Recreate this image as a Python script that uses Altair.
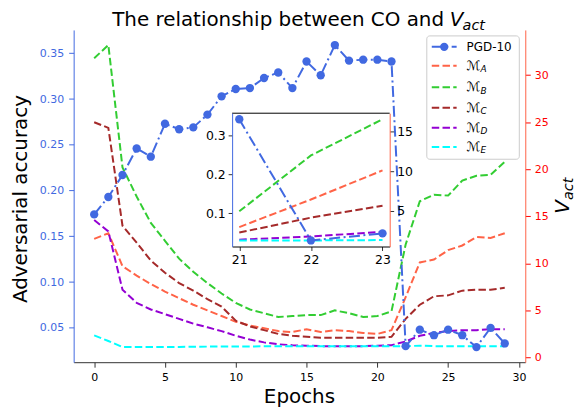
import altair as alt
import pandas as pd

# ---------------- data ----------------
epochs = list(range(30))
pgd = [0.174, 0.193, 0.217, 0.246, 0.237, 0.273, 0.267, 0.269, 0.283, 0.303,
       0.311, 0.312, 0.323, 0.329, 0.312, 0.341, 0.326, 0.359, 0.342, 0.343,
       0.343, 0.341, 0.030, 0.048, 0.042, 0.048, 0.042, 0.029, 0.050, 0.033]
m_a = [12.6, 13.2, 9.7, 8.7, 7.8, 7.0, 6.3, 5.6, 5.0, 4.4,
       3.8, 3.4, 3.1, 2.8, 2.7, 3.0, 2.7, 2.9, 2.8, 2.6,
       2.5, 2.9, 6.4, 10.1, 10.4, 11.4, 11.9, 12.8, 12.7, 13.2]
m_b = [31.8, 33.2, 20.2, 17.1, 14.3, 12.4, 10.5, 9.1, 7.9, 6.8,
       5.8, 5.1, 4.7, 4.3, 4.4, 4.5, 4.5, 5.0, 4.7, 4.3,
       4.4, 4.9, 12.0, 16.6, 17.3, 17.2, 18.8, 19.3, 19.4, 20.8]
m_c = [25.0, 24.4, 14.0, 12.2, 10.3, 9.0, 7.9, 7.1, 6.2, 5.4,
       3.9, 3.3, 2.9, 2.5, 2.3, 2.2, 2.1, 2.1, 2.1, 2.1,
       2.1, 2.2, 4.1, 5.6, 6.5, 6.6, 7.1, 7.2, 7.2, 7.4]
m_d = [14.6, 13.4, 7.2, 5.8, 5.1, 4.6, 4.1, 3.6, 3.2, 2.8,
       2.3, 1.9, 1.6, 1.4, 1.3, 1.25, 1.2, 1.2, 1.2, 1.2,
       1.25, 1.3, 1.7, 2.3, 2.6, 2.8, 2.9, 2.9, 3.0, 3.0]
m_e = [2.35, 1.75, 1.1, 1.1, 1.1, 1.1, 1.12, 1.14, 1.15, 1.16,
       1.17, 1.17, 1.18, 1.18, 1.18, 1.18, 1.18, 1.18, 1.18, 1.18,
       1.18, 1.2, 1.2, 1.25, 1.2, 1.2, 1.2, 1.2, 1.2, 1.2]
series_keys = ["A", "B", "C", "D", "E"]
series_colors = ["tomato", "limegreen", "brown", "darkviolet", "cyan"]
inset_epochs = [21, 22, 23]
x_ticks = [0, 5, 10, 15, 20, 25, 30]
left_ticks = [0.05, 0.10, 0.15, 0.20, 0.25, 0.30, 0.35]
right_ticks = [0, 5, 10, 15, 20, 25, 30]
inset_left_ticks = [0.1, 0.2, 0.3]
inset_right_ticks = [5, 10, 15]

# ---------------- tables ----------------
rows = []
for key, vals in zip(series_keys, [m_a, m_b, m_c, m_d, m_e]):
    for e, v in zip(epochs, vals):
        rows.append({"epoch": e, "value": v, "series": key})
m_df = pd.DataFrame(rows)
pgd_df = pd.DataFrame({"epoch": epochs, "acc": pgd})
m_in = m_df[m_df["epoch"].isin(inset_epochs)]
pgd_in = pgd_df[pgd_df["epoch"].isin(inset_epochs)]


def padded(lo, hi, frac=0.05):
    r = hi - lo
    return [lo - frac * r, hi + frac * r]


W, H = 454, 334
FONT = "DejaVu Sans"
xdom = padded(min(epochs), max(epochs))
ldom = padded(min(pgd), max(pgd))
rdom = padded(m_df["value"].min(), m_df["value"].max())
ixdom = padded(min(inset_epochs), max(inset_epochs))
ildom = padded(pgd_in["acc"].min(), pgd_in["acc"].max())
irdom = padded(m_in["value"].min(), m_in["value"].max())

# inset placement inside the plot area (pixels)
IX0, IX1, IYT, IYB = 159.3, 317.7, 83.7, 217.7

dash = [7.5, 3.3]
dashdot = [11, 3.5, 2, 3.5]
blue = "royalblue"
one = pd.DataFrame({"k": [0]})

color_enc = alt.Color("series:N", scale=alt.Scale(domain=series_keys, range=series_colors), legend=None)

# ---------------- main axes ----------------
main_x_axis = alt.Axis(orient="bottom", values=x_ticks, grid=False, tickSize=5, labelPadding=4,
                       labelFontSize=11, labelColor="black", domainColor="#333", tickColor="#333",
                       title=None, labelFlush=False)
left_axis = alt.Axis(orient="left", values=left_ticks, format=".2f", grid=False, tickSize=5,
                     labelPadding=5, labelFontSize=11, labelColor=blue, tickColor=blue,
                     domainColor=blue, title=None)
right_axis = alt.Axis(orient="right", values=right_ticks, format="d", grid=False, tickSize=5,
                      labelPadding=4, labelFontSize=11, labelColor="red", tickColor="red",
                      domainColor="tomato", title=None)

m_main = alt.Chart(m_df).mark_line(strokeDash=dash, strokeWidth=2).encode(
    x=alt.X("epoch:Q", scale=alt.Scale(domain=xdom, nice=False, zero=False), axis=main_x_axis),
    y=alt.Y("value:Q", scale=alt.Scale(domain=rdom, nice=False, zero=False), axis=right_axis),
    color=color_enc, detail="series:N")

pgd_line = alt.Chart(pgd_df).mark_line(strokeDash=dashdot, strokeWidth=2, color=blue).encode(
    x=alt.X("epoch:Q", scale=alt.Scale(domain=xdom, nice=False, zero=False), axis=None),
    y=alt.Y("acc:Q", scale=alt.Scale(domain=ldom, nice=False, zero=False), axis=left_axis))
pgd_pts = alt.Chart(pgd_df).mark_circle(size=70, color=blue, opacity=1).encode(
    x=alt.X("epoch:Q", scale=alt.Scale(domain=xdom, nice=False, zero=False), axis=None),
    y=alt.Y("acc:Q", scale=alt.Scale(domain=ldom, nice=False, zero=False), axis=None))

# ---------------- inset ----------------
inset_bg = alt.Chart(one).mark_rect(fill="white", stroke=None).encode(
    x=alt.value(IX0), x2=alt.value(IX1), y=alt.value(IYT), y2=alt.value(IYB))

ix_axis = alt.Axis(orient="bottom", offset=-(H - IYB), values=inset_epochs, grid=False, tickSize=4,
                   labelPadding=3, labelFontSize=12.5, labelColor="black", domainColor="black",
                   tickColor="#333", title=None, zindex=2, labelFlush=False)
il_axis = alt.Axis(orient="left", offset=-IX0, values=inset_left_ticks, format=".1f", grid=False,
                   tickSize=4, labelPadding=3, labelFontSize=12.5, labelColor="black",
                   domainColor=blue, tickColor="#333", title=None, zindex=2)
ir_axis = alt.Axis(orient="right", offset=-(W - IX1), values=inset_right_ticks, format="d", grid=False,
                   tickSize=4, labelPadding=3, labelFontSize=12.5, labelColor="black",
                   domainColor="tomato", tickColor="#333", title=None, zindex=2)

ixs = alt.Scale(domain=ixdom, range=[IX0, IX1], nice=False, zero=False)
m_inset = alt.Chart(m_in).mark_line(strokeDash=dash, strokeWidth=2).encode(
    x=alt.X("epoch:Q", scale=ixs, axis=ix_axis),
    y=alt.Y("value:Q", scale=alt.Scale(domain=irdom, range=[IYB, IYT], nice=False, zero=False), axis=ir_axis),
    color=color_enc, detail="series:N")
pgd_in_line = alt.Chart(pgd_in).mark_line(strokeDash=dashdot, strokeWidth=2, color=blue).encode(
    x=alt.X("epoch:Q", scale=ixs, axis=None),
    y=alt.Y("acc:Q", scale=alt.Scale(domain=ildom, range=[IYB, IYT], nice=False, zero=False), axis=il_axis))
pgd_in_pts = alt.Chart(pgd_in).mark_circle(size=70, color=blue, opacity=1).encode(
    x=alt.X("epoch:Q", scale=ixs, axis=None),
    y=alt.Y("acc:Q", scale=alt.Scale(domain=ildom, range=[IYB, IYT], nice=False, zero=False), axis=None))
inset_top = alt.Chart(one).mark_rule(color="black", strokeWidth=1).encode(
    x=alt.value(IX0), x2=alt.value(IX1), y=alt.value(IYT))

# ---------------- legend (hand-built) ----------------
LX0, LX1, LY0, LY1 = 355, 448, 6, 130
legend_layers = [alt.Chart(one).mark_rect(fill="white", fillOpacity=0.85, stroke="#cccccc",
                                          strokeWidth=1, cornerRadius=3).encode(
    x=alt.value(LX0), x2=alt.value(LX1), y=alt.value(LY0), y2=alt.value(LY1))]
row_y = [17, 36, 57.7, 78.3, 98.3, 117.7]
legend_layers.append(alt.Chart(one).mark_rule(color=blue, strokeWidth=2, strokeDash=dashdot).encode(
    x=alt.value(360), x2=alt.value(385), y=alt.value(row_y[0])))
legend_layers.append(alt.Chart(one).mark_circle(size=70, color=blue, opacity=1).encode(
    x=alt.value(372.5), y=alt.value(row_y[0])))
legend_layers.append(alt.Chart(one).mark_text(align="left", baseline="middle", fontSize=12,
                                              font=FONT, color="black").encode(
    x=alt.value(395), y=alt.value(row_y[0]), text=alt.value("PGD-10")))
for key, col, yy in zip(series_keys, series_colors, row_y[1:]):
    legend_layers.append(alt.Chart(one).mark_rule(color=col, strokeWidth=2, strokeDash=dash).encode(
        x=alt.value(360), x2=alt.value(385), y=alt.value(yy)))
    legend_layers.append(alt.Chart(one).mark_text(align="left", baseline="middle", fontSize=13,
                                                  font=FONT, color="black").encode(
        x=alt.value(395), y=alt.value(yy), text=alt.value("\u2133")))
    legend_layers.append(alt.Chart(one).mark_text(align="left", baseline="alphabetic", fontSize=9,
                                                  fontStyle="italic", font=FONT, color="black").encode(
        x=alt.value(409), y=alt.value(yy + 6.5), text=alt.value(key)))

# ---------------- titles ----------------
def txt(s, x, y, size, **kw):
    return alt.Chart(one).mark_text(font=FONT, fontSize=size, color="black", **kw).encode(
        x=alt.value(x), y=alt.value(y), text=alt.value(s))

titles = [
    txt("The relationship between CO and ", 38.7, -4.0, 20, align="left", baseline="alphabetic"),
    txt("V", 378, -4.0, 20, align="left", baseline="alphabetic", fontStyle="italic"),
    txt("act", 391, 0.0, 14.5, align="left", baseline="alphabetic", fontStyle="italic"),
    txt("Epochs", W / 2, H + 41, 20, align="center", baseline="alphabetic"),
    txt("Adversarial accuracy", -46.5, 170, 20, align="center", baseline="alphabetic", angle=270),
    txt("V", 498, 184.7, 20, align="left", baseline="alphabetic", angle=270, fontStyle="italic"),
    txt("act", 502, 171, 14.5, align="left", baseline="alphabetic", angle=270, fontStyle="italic"),
]

chart = alt.layer(
    m_main, pgd_line, pgd_pts,
    inset_bg, m_inset, pgd_in_line, pgd_in_pts, inset_top,
    *legend_layers, *titles
).resolve_scale(
    x="independent", y="independent"
).properties(
    width=W, height=H,
    autosize=alt.AutoSizeParams(type="none"),
    padding={"left": 66, "top": 21, "right": 53, "bottom": 48},
).configure(font=FONT).configure_view(stroke=None)

chart.save("out.html", embed_options={"renderer": "svg", "actions": False})
